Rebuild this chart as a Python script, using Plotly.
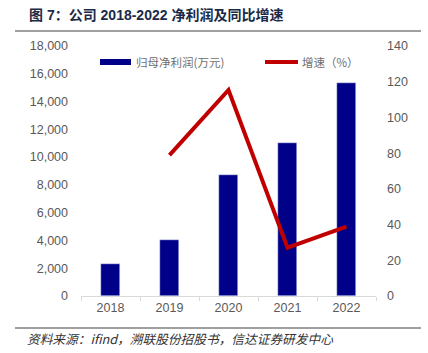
import plotly.graph_objects as go

years = ["2018", "2019", "2020", "2021", "2022"]
net_profit = [2280, 4050, 8710, 11040, 15310]          # 归母净利润(万元)
growth = [None, 78.9, 115.4, 27.1, 38.8]               # 增速(%)
left_ticks = [0, 2000, 4000, 6000, 8000, 10000, 12000, 14000, 16000, 18000]
right_ticks = [0, 20, 40, 60, 80, 100, 120, 140]

title_text = "图 7：公司 2018-2022 净利润及同比增速"
source_text = "资料来源：ifind，溯联股份招股书，信达证券研发中心"
legend_bar = "归母净利润(万元)"
legend_line = "增速（%）"

BAR = "#000088"
RED = "#C00000"
GREY = "#595959"
LAT = "Liberation Sans, Arial, Noto Sans CJK SC"
CJK = "Noto Sans CJK SC, Liberation Sans"

fig = go.Figure()
fig.add_trace(go.Bar(x=years, y=net_profit, marker_color=BAR, width=0.32,
                     name=legend_bar, yaxis="y"))
fig.add_trace(go.Scatter(x=years, y=growth, mode="lines", line=dict(color=RED, width=4),
                         name=legend_line, yaxis="y2", connectgaps=False))

W, H = 428, 353
L, R, T, B = 81, 52, 46, 57
fig.update_layout(
    width=W, height=H,
    margin=dict(l=L, r=R, t=T, b=B, pad=0),
    paper_bgcolor="white", plot_bgcolor="white",
    showlegend=False,
    xaxis=dict(type="category", showline=True, linecolor="#d9d9d9", linewidth=1,
               ticks="outside", tickson="boundaries", ticklen=4, tickcolor="#d9d9d9",
               tickfont=dict(family=LAT, size=12.5, color=GREY), showgrid=False),
    yaxis=dict(range=[0, 18000], tickvals=left_ticks, tickformat=",d", showgrid=False,
               zeroline=False, showline=False, ticks="", ticklabelstandoff=12,
               tickfont=dict(family=LAT, size=12.5, color=GREY)),
    yaxis2=dict(range=[0, 140], tickvals=right_ticks, overlaying="y", side="right",
                showgrid=False, zeroline=False, showline=False, ticks="", ticklabelstandoff=10,
                tickfont=dict(family=LAT, size=12.5, color=GREY)),
    bargap=0,
)

def px_x(x):
    return (x - L) / (W - L - R)

def px_y(y):
    return (H - B - y) / (H - T - B)

shapes = [
    dict(type="line", xref="paper", yref="paper", x0=px_x(15), x1=px_x(421), y0=px_y(31), y1=px_y(31),
         line=dict(color="#404040", width=1)),
    dict(type="line", xref="paper", yref="paper", x0=px_x(15), x1=px_x(421), y0=px_y(328), y1=px_y(328),
         line=dict(color="#404040", width=1)),
    dict(type="rect", xref="paper", yref="paper", x0=px_x(100), x1=px_x(131), y0=px_y(65), y1=px_y(59),
         fillcolor=BAR, line=dict(width=0)),
    dict(type="line", xref="paper", yref="paper", x0=px_x(265), x1=px_x(298), y0=px_y(62), y1=px_y(62),
         line=dict(color=RED, width=4)),
]
fig.update_layout(shapes=shapes)

annotations = [
    dict(text="<b>" + title_text + "</b>", xref="paper", yref="paper", x=px_x(27), y=px_y(15),
         xanchor="left", yanchor="middle", showarrow=False,
         font=dict(family=LAT, size=14, color="#1b2a47")),
    dict(text="<i>" + source_text + "</i>", xref="paper", yref="paper", x=px_x(25), y=px_y(338),
         xanchor="left", yanchor="middle", showarrow=False,
         font=dict(family=CJK, size=12.7, color="#333333")),
    dict(text=legend_bar, xref="paper", yref="paper", x=px_x(134), y=px_y(62),
         xanchor="left", yanchor="middle", showarrow=False,
         font=dict(family=CJK, size=11.5, color="#6f6f6f")),
    dict(text=legend_line, xref="paper", yref="paper", x=px_x(300), y=px_y(62),
         xanchor="left", yanchor="middle", showarrow=False,
         font=dict(family=CJK, size=11.5, color="#6f6f6f")),
]
fig.update_layout(annotations=annotations)

fig.write_html("out.html")
